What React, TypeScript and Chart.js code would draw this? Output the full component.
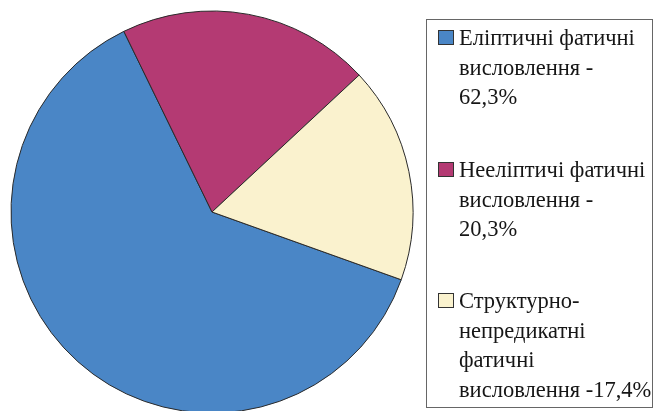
import React, { useEffect, useRef } from "react";
import { Chart, registerables } from "chart.js";

Chart.register(...registerables);

const categories = [
  "Еліптичні фатичні висловлення",
  "Нееліптичі фатичні висловлення",
  "Структурно-непредикатні фатичні висловлення",
];
const values = [62.3, 20.3, 17.4];
const colors = ["#4a86c6", "#b43a73", "#faf2ce"];
const legendLines = [
  ["Еліптичні фатичні", "висловлення -", "62,3%"],
  ["Нееліптичі фатичні", "висловлення -", "20,3%"],
  ["Структурно-", "непредикатні", "фатичні", "висловлення -17,4%"],
];
const legendTops = [38, 170, 301];

export default function App() {
  const ref = useRef<HTMLCanvasElement | null>(null);
  useEffect(() => {
    if (!ref.current) return;
    const chart = new Chart(ref.current, {
      type: "pie",
      data: {
        labels: categories,
        datasets: [
          {
            data: values,
            backgroundColor: colors,
            borderColor: "#2a2a2a",
            borderWidth: 1,
          },
        ],
      },
      options: {
        responsive: false,
        animation: false,
        rotation: 109.7,
        radius: 201,
        layout: { padding: { left: 0, right: 231, top: 13, bottom: 0 } },
        plugins: {
          legend: { display: false },
          tooltip: { enabled: false },
        },
      } as any,
    });
    return () => chart.destroy();
  }, []);

  const lh = 29.5;
  return (
    <div style={{ position: "fixed", left: 0, top: 0, width: 655, height: 411, overflow: "hidden", background: "#fff" }}>
      <canvas ref={ref} width={655} height={411} style={{ position: "absolute", left: 0, top: 0 }} />
      <div
        style={{
          position: "absolute",
          left: 426,
          top: 19,
          width: 227,
          height: 389,
          boxSizing: "border-box",
          border: "1.5px solid #666",
        }}
      />
      {legendLines.map((lines, i) => (
        <React.Fragment key={i}>
          <div
            style={{
              position: "absolute",
              left: 438,
              top: legendTops[i] - 8,
              width: 16,
              height: 15,
              boxSizing: "border-box",
              border: "1px solid #333",
              background: colors[i],
            }}
          />
          <div
            style={{
              position: "absolute",
              left: 459,
              top: legendTops[i] - lh / 2,
              fontFamily: '"Liberation Serif", Tinos, "Times New Roman", "DejaVu Serif", serif',
              fontSize: 22.5,
              lineHeight: lh + "px",
              color: "#161616",
              whiteSpace: "nowrap",
            }}
          >
            {lines.map((l, j) => (
              <div key={j}>{l}</div>
            ))}
          </div>
        </React.Fragment>
      ))}
    </div>
  );
}
